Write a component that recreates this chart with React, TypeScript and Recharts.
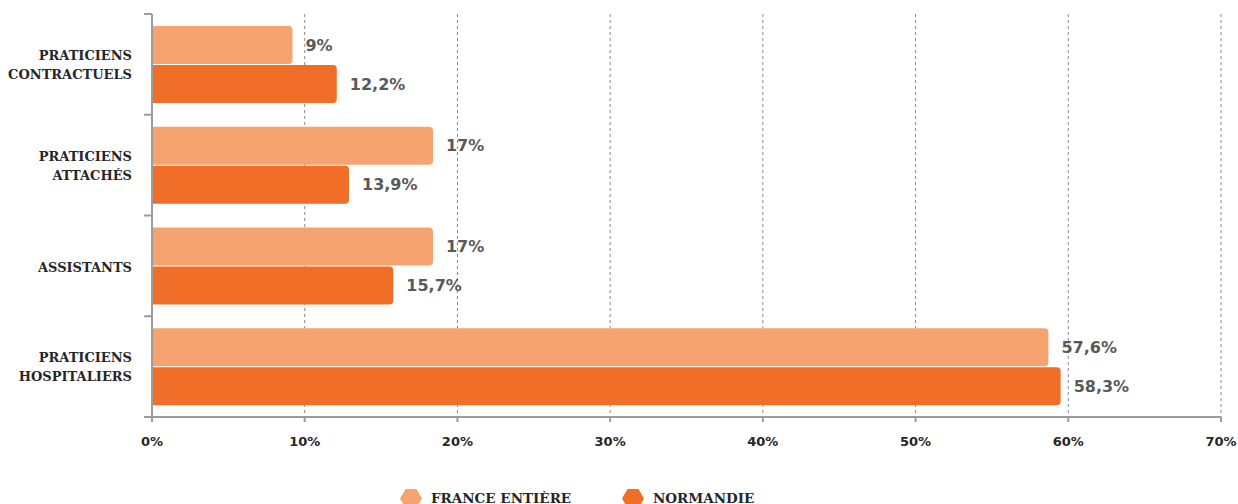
import { BarChart, Bar, XAxis, YAxis, CartesianGrid, Legend, LabelList } from 'recharts'

const categories = ['PRATICIENS\nCONTRACTUELS', 'PRATICIENS\nATTACHÉS', 'ASSISTANTS', 'PRATICIENS\nHOSPITALIERS']
// bar lengths as they are drawn (%)
const franceValues = [9.2, 18.4, 18.4, 58.7]
const normandieValues = [12.1, 12.9, 15.8, 59.5]
// printed value labels
const franceLabels = ['9%', '17%', '17%', '57,6%']
const normandieLabels = ['12,2%', '13,9%', '15,7%', '58,3%']
const xTicks = [0, 10, 20, 30, 40, 50, 60, 70]

const seriesNames = ['FRANCE ENTIÈRE', 'NORMANDIE']
const LIGHT = '#F5A470'
const DARK = '#F06E27'
const AXIS = '#9c9c9c'

const WIDTH = 1238
const HEIGHT = 504
const TOP = 14
const PLOT_LEFT = 152
const PLOT_BOTTOM = 417
const BAND = (PLOT_BOTTOM - TOP) / categories.length

const data = categories.map((name, i) => ({
  name,
  france: franceValues[i],
  normandie: normandieValues[i],
  franceLabel: franceLabels[i],
  normandieLabel: normandieLabels[i],
}))

const CategoryTick = (props: any) => {
  const { y, payload, index } = props
  const lines = String(payload.value).split('\n')
  const tx = PLOT_LEFT - 20
  return (
    <g>
      <line x1={PLOT_LEFT - 8} x2={PLOT_LEFT} y1={y - BAND / 2} y2={y - BAND / 2} stroke={AXIS} strokeWidth={2} />
      {index === categories.length - 1 && (
        <line x1={PLOT_LEFT - 8} x2={PLOT_LEFT} y1={y + BAND / 2} y2={y + BAND / 2} stroke={AXIS} strokeWidth={2} />
      )}
      <text
        textAnchor="end"
        fill="#262626"
        style={{ fontFamily: "'DejaVu Serif', serif", fontWeight: 700, fontSize: 13 }}
      >
        {lines.length === 1 ? (
          <tspan x={tx} y={y + 6}>{lines[0]}</tspan>
        ) : (
          lines.map((l, i) => (
            <tspan key={i} x={tx} y={y - 4.5 + i * 19}>{l}</tspan>
          ))
        )}
      </text>
    </g>
  )
}

const Hexagon = ({ color }: { color: string }) => (
  <svg width={22} height={19} style={{ display: 'block' }}>
    <polygon points="0,9.5 5.5,0 16.5,0 22,9.5 16.5,19 5.5,19" fill={color} />
  </svg>
)

const LegendContent = () => (
  <div style={{ display: 'flex', alignItems: 'center', height: 24, paddingLeft: 400 }}>
    {seriesNames.map((n, i) => (
      <div key={n} style={{ display: 'flex', alignItems: 'center', width: i === 0 ? 222 : 'auto' }}>
        <Hexagon color={i === 0 ? LIGHT : DARK} />
        <span
          style={{
            marginLeft: 9,
            fontFamily: "'DejaVu Serif', serif",
            fontWeight: 700,
            fontSize: 13.5,
            color: '#262626',
          }}
        >
          {n}
        </span>
      </div>
    ))}
  </div>
)

const labelStyle = { fontFamily: "'DejaVu Sans', sans-serif", fontWeight: 700, fontSize: 16 }

export default function App() {
  return (
    <div style={{ position: 'absolute', left: 0, top: 0, background: '#fff' }}>
      <BarChart
        width={WIDTH}
        height={HEIGHT}
        data={data}
        layout="vertical"
        margin={{ top: TOP, right: WIDTH - 1221, left: 0, bottom: 0 }}
        barSize={38}
        barGap={1}
      >
        <CartesianGrid horizontal={false} stroke="#8a8a8a" strokeDasharray="3 3" />
        <XAxis
          type="number"
          domain={[0, 70]}
          ticks={xTicks}
          tickFormatter={(v: number) => `${v}%`}
          axisLine={{ stroke: AXIS, strokeWidth: 2 }}
          tickLine={{ stroke: AXIS, strokeWidth: 2 }}
          tickSize={5}
          tickMargin={15}
          height={63}
          tick={{ fill: '#262626', fontFamily: "'DejaVu Sans', sans-serif", fontWeight: 700, fontSize: 13 }}
          interval={0}
        />
        <YAxis
          type="category"
          dataKey="name"
          width={PLOT_LEFT}
          axisLine={{ stroke: AXIS, strokeWidth: 2 }}
          tickLine={false}
          tick={<CategoryTick />}
          interval={0}
        />
        <Legend
          verticalAlign="bottom"
          content={() => <LegendContent />}
          wrapperStyle={{ left: 0, width: WIDTH, top: 486, bottom: 'auto' }}
        />
        <Bar dataKey="france" name={seriesNames[0]} fill={LIGHT} radius={[0, 4, 4, 0]} isAnimationActive={false}>
          <LabelList dataKey="franceLabel" position="right" offset={13} fill="#595959" style={labelStyle} />
        </Bar>
        <Bar dataKey="normandie" name={seriesNames[1]} fill={DARK} radius={[0, 4, 4, 0]} isAnimationActive={false}>
          <LabelList dataKey="normandieLabel" position="right" offset={13} fill="#595959" style={labelStyle} />
        </Bar>
      </BarChart>
    </div>
  )
}
